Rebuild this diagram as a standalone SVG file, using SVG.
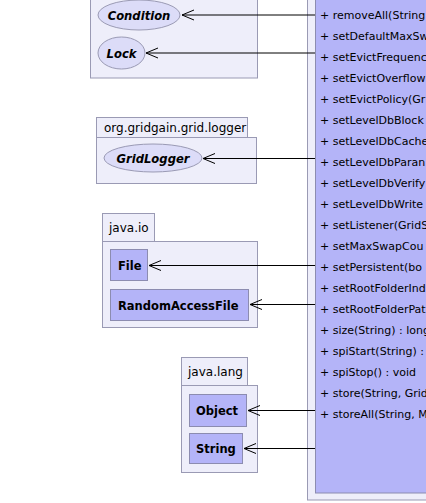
<svg xmlns="http://www.w3.org/2000/svg" width="426" height="503" viewBox="0 0 426 503">
<defs>
<style>
.pkg{fill:#eeeefa;stroke:#9a9ab4;stroke-width:1}
.cls{fill:#b4b4f8;stroke:#8c8cb0;stroke-width:1}
.ell{fill:#dcdcf8;stroke:#9a9ab4;stroke-width:1}
.t{font-family:"DejaVu Sans",sans-serif;font-size:12px;fill:#000}
.b{font-weight:bold;font-size:11.5px}
.bi{font-weight:bold;font-style:italic;font-size:11.6px}
.m{font-family:"DejaVu Sans",sans-serif;font-size:11px;fill:#000}
.edge{stroke:#000;stroke-width:1;fill:none}
</style>
<marker id="open" markerWidth="14" markerHeight="12" refX="13" refY="6" orient="auto" markerUnits="userSpaceOnUse">
<path d="M1,1 L13,6 L1,11" fill="none" stroke="#000" stroke-width="1"/>
</marker>
</defs>
<rect width="426" height="503" fill="#fff"/>

<g id="pkg-locks">
<rect class="pkg" x="90.5" y="-10" width="167" height="88"/>
</g>
<g id="Condition">
<ellipse class="ell" cx="139" cy="15" rx="41" ry="15"/>
<text class="t bi" x="139" y="19.5" text-anchor="middle">Condition</text>
</g>
<g id="Lock">
<ellipse class="ell" cx="121.5" cy="53" rx="23.5" ry="16"/>
<text class="t bi" x="121.5" y="57.5" text-anchor="middle">Lock</text>
</g>

<g id="pkg-logger">
<rect class="pkg" x="96.5" y="117.5" width="151" height="20"/>
<rect class="pkg" x="96.5" y="137.5" width="160" height="46"/>
<text class="t" x="104" y="131.5" font-size="11.5">org.gridgain.grid.logger</text>
</g>
<g id="GridLogger">
<ellipse class="ell" cx="153" cy="158" rx="49" ry="14"/>
<text class="t bi" x="153" y="162.5" text-anchor="middle">GridLogger</text>
</g>

<g id="pkg-io">
<rect class="pkg" x="102.5" y="213.5" width="52" height="28"/>
<rect class="pkg" x="102.5" y="241.5" width="155" height="86"/>
<text class="t" x="109" y="232">java.io</text>
</g>
<g id="File">
<rect class="cls" x="110.5" y="249.5" width="37" height="31"/>
<text class="t b" x="118" y="269.5">File</text>
</g>
<g id="RandomAccessFile">
<rect class="cls" x="110.5" y="289.5" width="138" height="31"/>
<text class="t b" x="118" y="309.5" font-size="11.2">RandomAccessFile</text>
</g>

<g id="pkg-lang">
<rect class="pkg" x="181.5" y="357.5" width="66" height="28"/>
<rect class="pkg" x="181.5" y="385.5" width="76" height="87"/>
<text class="t" x="188" y="376">java.lang</text>
</g>
<g id="Object">
<rect class="cls" x="189.5" y="394.5" width="57" height="32"/>
<text class="t b" x="196" y="414.5">Object</text>
</g>
<g id="String">
<rect class="cls" x="189.5" y="433.5" width="53" height="30"/>
<text class="t b" x="196" y="452.5">String</text>
</g>

<g id="SwapSpaceSpi">
<rect x="307.5" y="-10" width="130" height="510" fill="#eeeefa" stroke="#9a9ab4"/>
<rect x="315.5" y="-10" width="120" height="503" fill="#b4b4f8" stroke="#8c8cb0"/>
<text class="m" x="320" y="18.5">+ removeAll(String</text>
<text class="m" x="320" y="39.5">+ setDefaultMaxSw</text>
<text class="m" x="320" y="60.5">+ setEvictFrequenc</text>
<text class="m" x="320" y="81.5">+ setEvictOverflow</text>
<text class="m" x="320" y="102.5">+ setEvictPolicy(Gr</text>
<text class="m" x="320" y="123.5">+ setLevelDbBlock</text>
<text class="m" x="320" y="144.5">+ setLevelDbCache</text>
<text class="m" x="320" y="165.5">+ setLevelDbParan</text>
<text class="m" x="320" y="186.5">+ setLevelDbVerify</text>
<text class="m" x="320" y="207.5">+ setLevelDbWrite</text>
<text class="m" x="320" y="228.5">+ setListener(GridS</text>
<text class="m" x="320" y="249.5">+ setMaxSwapCou</text>
<text class="m" x="320" y="270.5">+ setPersistent(bo</text>
<text class="m" x="320" y="291.5">+ setRootFolderInd</text>
<text class="m" x="320" y="312.5">+ setRootFolderPat</text>
<text class="m" x="320" y="333.5">+ size(String) : long</text>
<text class="m" x="320" y="354.5">+ spiStart(String) :</text>
<text class="m" x="320" y="375.5">+ spiStop() : void</text>
<text class="m" x="320" y="396.5">+ store(String, Grid</text>
<text class="m" x="320" y="417.5">+ storeAll(String, M</text>
</g>

<g id="connectors">
<line class="edge" x1="315" y1="15" x2="182" y2="15" marker-end="url(#open)"/>
<line class="edge" x1="315" y1="53" x2="146" y2="53" marker-end="url(#open)"/>
<line class="edge" x1="315" y1="158.5" x2="203" y2="158.5" marker-end="url(#open)"/>
<line class="edge" x1="315" y1="265.5" x2="149" y2="265.5" marker-end="url(#open)"/>
<line class="edge" x1="315" y1="304.5" x2="250" y2="304.5" marker-end="url(#open)"/>
<line class="edge" x1="315" y1="410.5" x2="248" y2="410.5" marker-end="url(#open)"/>
<line class="edge" x1="315" y1="448.5" x2="244" y2="448.5" marker-end="url(#open)"/>
</g>
</svg>
